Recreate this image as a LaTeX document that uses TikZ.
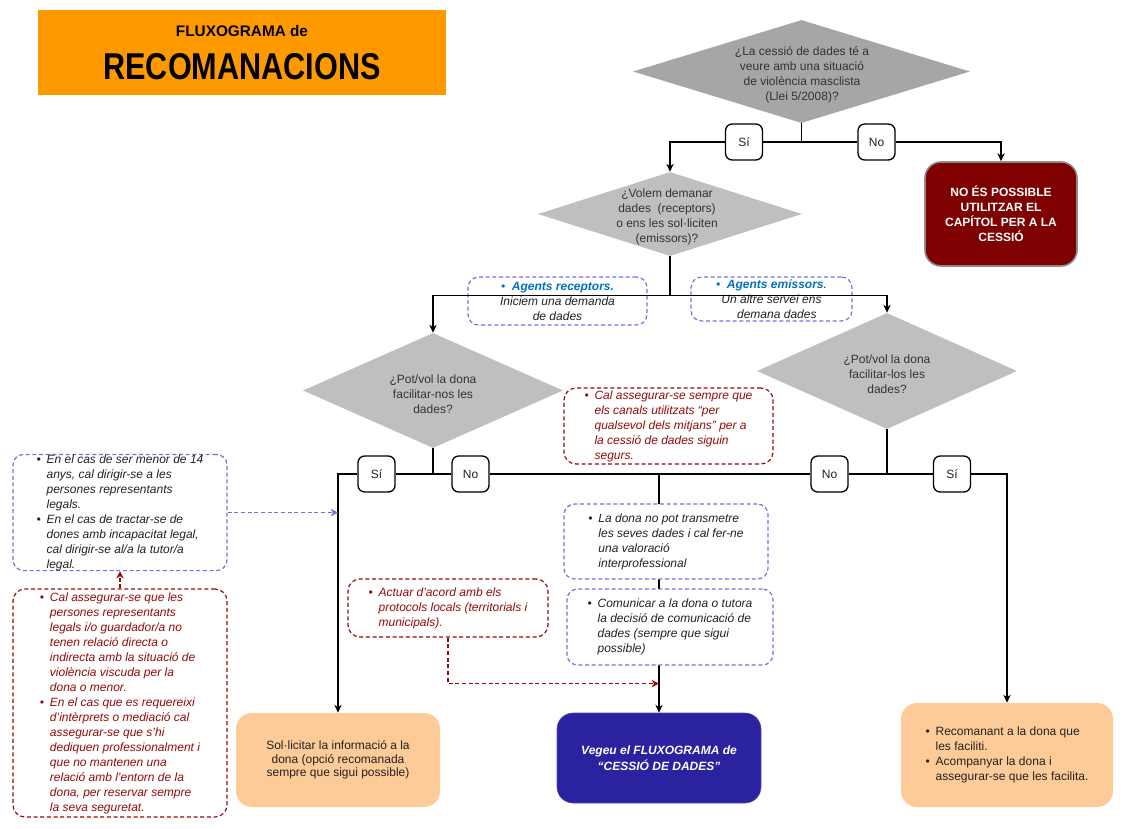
\documentclass[tikz,border=0pt]{standalone}
\usepackage{fontspec}
\setmainfont{Liberation Sans}
\usetikzlibrary{shapes.geometric,arrows.meta}
\newcommand\pxu{0.75pt}
\newcommand\mybul{\makebox[7.5pt][l]{\textbullet}}
\newcommand\myind{\hspace*{7.5pt}}
\definecolor{titleorange}{HTML}{FF9900}
\definecolor{dgray}{HTML}{A6A6A6}
\definecolor{lgray}{HTML}{BFBFBF}
\definecolor{darkred}{HTML}{7F0000}
\definecolor{peach}{HTML}{FDCB98}
\definecolor{indigo}{HTML}{2A229E}
\definecolor{dashblue}{HTML}{7272DD}
\definecolor{dashred}{HTML}{950A0A}
\definecolor{agblue}{HTML}{0070C0}
\definecolor{tcol}{HTML}{222222}
\tikzset{
  txt/.style={font=\fontsize{9}{11.25}\selectfont, text=tcol, inner sep=0pt},
  itxt/.style={txt, font=\fontsize{9}{11.25}\selectfont\itshape},
  dia/.style={diamond, inner sep=0pt, draw=none},
  yn/.style={txt, draw=black, line width=1pt, rounded corners=5pt, fill=white,
    minimum width=37*\pxu, minimum height=36*\pxu},
  dblue/.style={itxt, draw=dashblue, line width=0.9pt, dash pattern=on 3pt off 2pt,
    rounded corners=8pt},
  dred/.style={itxt, text=dashred, draw=dashred, line width=0.9pt, dash pattern=on 3pt off 2pt,
    rounded corners=9pt},
  conn/.style={line width=1pt, draw=black},
  arr/.style={conn, -{Stealth[length=6pt,width=5.5pt]}},
  darrb/.style={draw=dashblue, line width=0.9pt, dash pattern=on 3pt off 2pt,
    -{Stealth[length=5.5pt,width=5.5pt]}},
  darrr/.style={draw=dashred, line width=0.9pt, dash pattern=on 3pt off 2pt,
    -{Stealth[length=5.5pt,width=5.5pt]}},
  solid box/.style={txt, rounded corners=12pt},
}
\begin{document}
\begin{tikzpicture}[x=0.75pt,y=-0.75pt]
\useasboundingbox (0,0) rectangle (1123,828);
\fill[white] (0,0) rectangle (1123,828);

% title
\node[fill=titleorange, minimum width=408*\pxu, minimum height=85*\pxu, inner sep=0pt] (title) at (242,52.5) {};
\node[font=\fontsize{11.5}{12}\selectfont\bfseries, inner sep=0pt] (t1) at (242,31) {FLUXOGRAMA de};
\node[font=\fontsize{28}{30}\selectfont\bfseries, inner sep=0pt] (t2) at (242,67) {\scalebox{0.82}[1]{RECOMANACIONS}};

% diamonds
\node[dia, fill=dgray, minimum width=337*\pxu, minimum height=103*\pxu] (d1) at (801.5,71.5) {};
\node[txt, align=center, text=black!80] (d1t) at (802,74.5) {¿La cessió de dades té a\\veure amb una situació\\de violència masclista\\(Llei 5/2008)?};
\node[dia, fill=lgray, minimum width=264*\pxu, minimum height=84*\pxu] (d2) at (670,214) {};
\node[txt, align=center, text=black!80] (d2t) at (667,216.5) {¿Volem demanar\\dades~ (receptors)\\o ens les sol·liciten\\(emissors)?};
\node[dia, fill=lgray, minimum width=260*\pxu, minimum height=115*\pxu] (d3) at (433,390.5) {};
\node[txt, align=center, text=black!80] (d3t) at (433,394) {¿Pot/vol la dona\\facilitar-nos les\\dades?};
\node[dia, fill=lgray, minimum width=260*\pxu, minimum height=116*\pxu] (d4) at (887,371) {};
\node[txt, align=center, text=black!80] (d4t) at (887,374.5) {¿Pot/vol la dona\\facilitar-los les\\dades?};

% yes/no
\node[yn] (si1) at (744,142) {Sí};
\node[yn] (no1) at (876.5,142) {No};
\node[yn] (si3) at (376.5,474) {Sí};
\node[yn] (no3) at (470.5,474) {No};
\node[yn] (no4) at (829.5,474) {No};
\node[yn] (si4) at (952,474) {Sí};

% end boxes
\node[solid box, fill=darkred, draw=black!45, line width=1.2pt, text=white, align=center,
  font=\fontsize{9}{11.25}\selectfont\bfseries,
  minimum width=152*\pxu, minimum height=104*\pxu] (red) at (1001,214)
  {NO ÉS POSSIBLE\\UTILITZAR EL\\CAPÍTOL PER A LA\\CESSIÓ};
\node[solid box, fill=peach, align=center, minimum width=204*\pxu, minimum height=94*\pxu,
  font=\fontsize{9}{10.3}\selectfont] (or1) at (338,760)
  {Sol·licitar la informació a la\\dona (opció recomanada\\sempre que sigui possible)};
\node[solid box, fill=indigo, draw=indigo!80!white, text=white, align=center,
  font=\fontsize{9}{12}\selectfont\bfseries\itshape,
  minimum width=204*\pxu, minimum height=90*\pxu] (bl) at (659,758)
  {Vegeu el FLUXOGRAMA de\\“CESSIÓ DE DADES”};
\node[solid box, fill=peach, align=left, minimum width=212*\pxu, minimum height=104*\pxu] (or2) at (1007,755)
  {\mybul Recomanant a la dona que\\\myind les faciliti.\\\mybul Acompanyar la dona i\\\myind assegurar-se que les facilita.};

% agents boxes (unfilled, line drawn over)
\node[dblue, align=center, minimum width=179*\pxu, minimum height=48*\pxu] (agr) at (557.5,301)
  {\textcolor{agblue}{\textbullet~ \textbf{Agents receptors.}}\\Iniciem una demanda\\de dades};
\node[dblue, align=center, minimum width=161*\pxu, minimum height=44*\pxu] (age) at (771.5,299)
  {\textcolor{agblue}{\textbullet~ \textbf{Agents emissors}}.\\Un altre servei ens\\\hspace*{8pt}demana dades};

% other note boxes
\node[dblue, fill=white, align=left, minimum width=214*\pxu, minimum height=115*\pxu] (lb) at (120,512.5)
  {\mybul En el cas de ser menor de 14\\\myind anys, cal dirigir-se a les\\\myind persones representants\\\myind legals.\\
   \mybul En el cas de tractar-se de\\\myind dones amb incapacitat legal,\\\myind cal dirigir-se al/a la tutor/a\\\myind legal.};
\node[dred, fill=white, align=left, minimum width=214*\pxu, minimum height=228*\pxu] (lr) at (120,703)
  {\mybul Cal assegurar-se que les\\\myind persones representants\\\myind legals i/o guardador/a no\\\myind tenen relació directa o\\\myind indirecta amb la situació de\\\myind violència viscuda per la\\\myind dona o menor.\\
   \mybul En el cas que es requereixi\\\myind d'intèrprets o mediació cal\\\myind assegurar-se que s'hi\\\myind dediquen professionalment i\\\myind que no mantenen una\\\myind relació amb l'entorn de la\\\myind dona, per reservar sempre\\\myind la seva seguretat.};
\node[dred, fill=white, align=left, minimum width=209*\pxu, minimum height=76*\pxu] (cas) at (668.5,426)
  {\mybul Cal assegurar-se sempre que\\\myind els canals utilitzats “per\\\myind qualsevol dels mitjans” per a\\\myind la cessió de dades siguin\\\myind segurs.};
\node[dred, fill=white, align=left, minimum width=200*\pxu, minimum height=58*\pxu] (act) at (448,608)
  {\mybul Actuar d'acord amb els\\\myind protocols locals (territorials i\\\myind municipals).};

% connectors
\draw[conn] (d1.south) |- (si1.east);
\draw[arr] (si1.west) -| (d2.north);
\draw[conn] (d1.south) |- (no1.west);
\draw[arr] (no1.east) -| (red.north);
\path (d2.south) ++(0,39) coordinate (j2);
\draw[conn] (d2.south) -- (j2);
\draw[arr] (j2) -| (d3.north);
\draw[arr] (j2) -| (d4.north);
\draw[conn] (d3.south) |- (si3.east);
\draw[arr] (si3.west) -| (or1.north);
\draw[conn] (d3.south) |- (no3.west);
\draw[conn] (no3.east) -- (no4.west);
\draw[conn] (d4.south) |- (no4.east);
\draw[conn] (d4.south) |- (si4.west);
\draw[arr] (si4.east) -| (or2.north);
\coordinate (j3) at (bl.north |- no3.east);
\draw[arr] (j3) -- (bl.north);

% boxes over the central line
\node[dblue, fill=white, align=left, minimum width=204*\pxu, minimum height=75*\pxu] (ldn) at (666,541.5)
  {\mybul La dona no pot transmetre\\\myind les seves dades i cal fer-ne\\\myind una valoració\\\myind interprofessional};
\node[dblue, fill=white, align=left, minimum width=206*\pxu, minimum height=76*\pxu] (com) at (670,627)
  {\mybul Comunicar a la dona o tutora\\\myind la decisió de comunicació de\\\myind dades (sempre que sigui\\\myind possible)};

% dashed connectors
\coordinate (lbt) at (lb.east -| or1.north);
\draw[darrb] (lb.east) -- (lbt);
\draw[darrr] (lr.north) -- (lb.south);
\path (act.south) ++(0,46) coordinate (actc);
\coordinate (actt) at (actc -| bl.north);
\draw[darrr] (act.south) |- (actt);
\end{tikzpicture}
\end{document}
